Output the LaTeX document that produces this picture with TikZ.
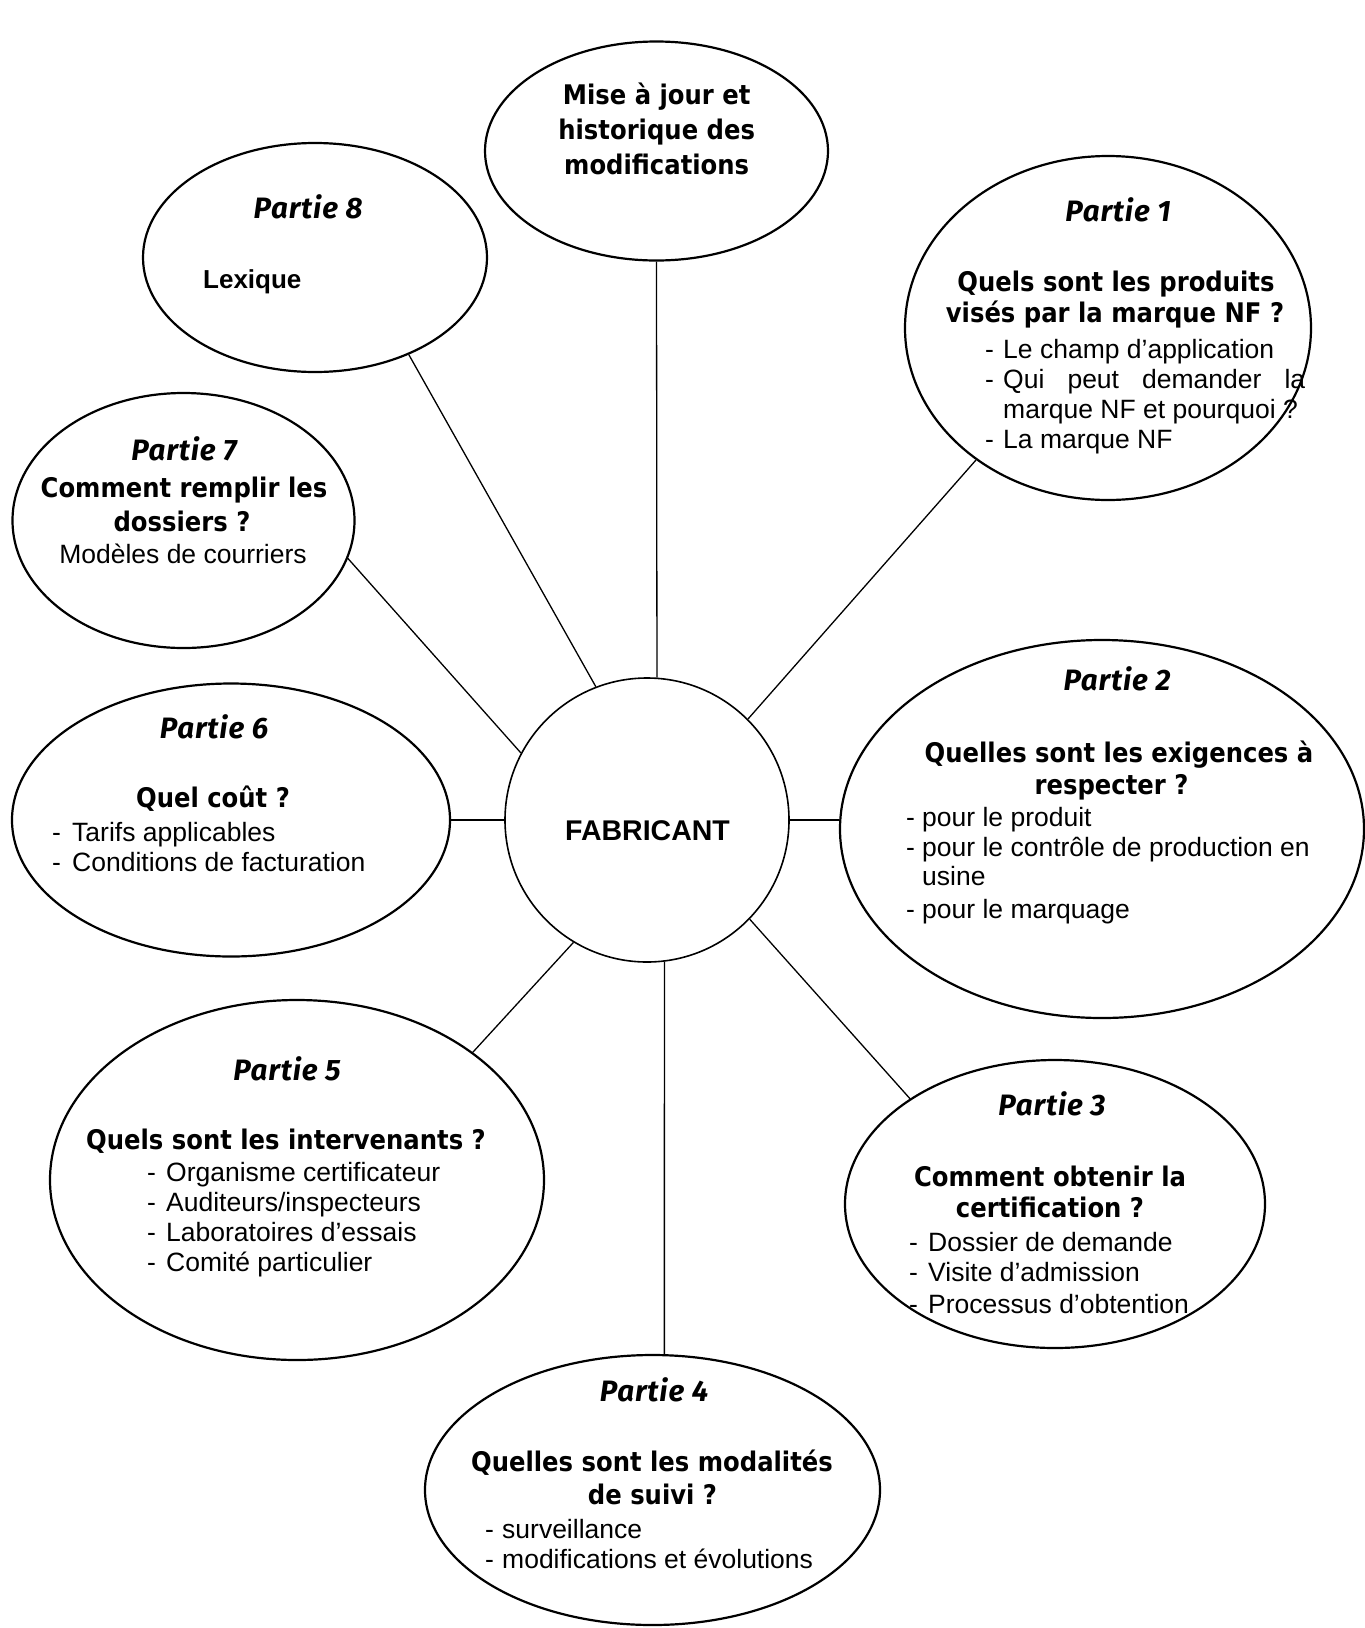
\documentclass[tikz,border=0pt]{standalone}
\usepackage{fontspec}
\setmainfont{Liberation Sans}
\newfontfamily\tfont{DejaVu Sans}[FakeStretch=0.9]
\newfontfamily\pfont{Fira Sans}[LetterSpace=3]
\usetikzlibrary{shapes.geometric}
\begin{document}
\begin{tikzpicture}[x=1pt,y=-1pt,
  bub/.style={ellipse, draw, line width=2.2pt, inner sep=0pt},
  con/.style={line width=1.3pt},
  ptl/.style={font=\pfont\bfseries\itshape\fontsize{29.5}{32}\selectfont, anchor=base, inner sep=0pt},
  ttl/.style={font=\tfont\bfseries\fontsize{27}{31}\selectfont, anchor=base, inner sep=0pt},
  bod/.style={font=\fontsize{26.5}{30}\selectfont, anchor=base west, inner sep=0pt},
  bodc/.style={font=\fontsize{26.5}{30}\selectfont, anchor=base, inner sep=0pt}]
\useasboundingbox[fill=white] (0,0) rectangle (1365,1628);

% bubbles
\node[bub, minimum width=343pt, minimum height=219pt] (T) at (656.5,151) {};
\node[bub, minimum width=344pt, minimum height=229pt] (P8) at (315,257.5) {};
\node[bub, minimum width=406pt, minimum height=344pt] (P1) at (1108,328) {};
\node[bub, minimum width=342pt, minimum height=255pt] (P7) at (183.5,520.5) {};
\node[bub, minimum width=438pt, minimum height=273pt] (P6) at (231,820) {};
\node[circle, draw, line width=1.6pt, minimum size=284pt, inner sep=0pt] (C) at (647,820) {};
\node[bub, minimum width=524pt, minimum height=378pt] (P2) at (1102,829) {};
\node[bub, minimum width=494pt, minimum height=360pt] (P5) at (297,1180) {};
\node[bub, minimum width=420pt, minimum height=288pt] (P3) at (1055,1204) {};
\node[bub, minimum width=455pt, minimum height=270pt] (P4) at (652.5,1490) {};

% connectors
\draw[con] (T.270) -- (C.86);
\draw[con] (P8.314) -- (C.111);
\draw[con] (P1.225) -- (C.45);
\draw[con] (P7.347) -- (C.152);
\draw[con] (P6.east) -- (C.west);
\draw[con] (C.east) -- (C.east -| P2.west);
\draw[con] (P5.36) -- (C.239);
\draw[con] (C.316) -- (P3.144);
\draw[con] (C.277) -- (P4.85);

% centre
\node[font=\bfseries\fontsize{28.5}{32}\selectfont, anchor=base, inner sep=0pt] (fab) at (647.5,840) {FABRICANT};

% top
\node[ttl] (t1) at (656.7,104) {Mise à jour et};
\node[ttl] (t2) at (656.7,139) {historique des};
\node[ttl] (t3) at (656.7,174) {modifications};

% Partie 8
\node[ptl] (p8a) at (308,218) {Partie 8};
\node[bod, font=\bfseries\fontsize{26}{30}\selectfont] (p8b) at (203,288) {Lexique};

% Partie 1
\node[ptl] (p1a) at (1118,221) {Partie 1};
\node[ttl] (p1b) at (1116,291) {Quels sont les produits};
\node[ttl] (p1c) at (1115,322) {visés par la marque NF ?};
\node[bod] (p1d) at (985,358) {\makebox[18pt][l]{-}Le champ d’application};
\node[bod] (p1e) at (985,388) {\makebox[18pt][l]{-}\makebox[302pt][s]{Qui peut demander la}};
\node[bod] (p1f) at (1003,418) {marque NF et pourquoi ?};
\node[bod] (p1g) at (985,448) {\makebox[18pt][l]{-}La marque NF};

% Partie 7
\node[ptl] (p7a) at (184,460) {Partie 7};
\node[ttl] (p7b) at (184,497) {Comment remplir les};
\node[ttl] (p7c) at (182,531) {dossiers ?};
\node[bodc] (p7d) at (183,563) {Modèles de courriers};

% Partie 6
\node[ptl] (p6a) at (214,738) {Partie 6};
\node[ttl] (p6b) at (213,807) {Quel coût ?};
\node[bod] (p6c) at (52,841) {\makebox[20pt][l]{-}Tarifs applicables};
\node[bod] (p6d) at (52,871) {\makebox[20pt][l]{-}Conditions de facturation};

% Partie 2
\node[ptl] (p2a) at (1117,690) {Partie 2};
\node[ttl] (p2b) at (1119,762) {Quelles sont les exigences à};
\node[ttl] (p2c) at (1111.5,794) {respecter ?};
\node[bod] (p2d) at (906,826) {\makebox[16pt][l]{-}pour le produit};
\node[bod] (p2e) at (906,856) {\makebox[16pt][l]{-}pour le contrôle de production en};
\node[bod] (p2f) at (922,885) {usine};
\node[bod] (p2g) at (906,918) {\makebox[16pt][l]{-}pour le marquage};

% Partie 5
\node[ptl] (p5a) at (287,1080) {Partie 5};
\node[ttl] (p5b) at (286,1149) {Quels sont les intervenants ?};
\node[bod] (p5c) at (147,1181) {\makebox[19pt][l]{-}Organisme certificateur};
\node[bod] (p5d) at (147,1211) {\makebox[19pt][l]{-}Auditeurs/inspecteurs};
\node[bod] (p5e) at (147,1241) {\makebox[19pt][l]{-}Laboratoires d’essais};
\node[bod] (p5f) at (147,1271) {\makebox[19pt][l]{-}Comité particulier};

% Partie 3
\node[ptl] (p3a) at (1052,1115) {Partie 3};
\node[ttl] (p3b) at (1050,1186) {Comment obtenir la};
\node[ttl] (p3c) at (1050,1217) {certification ?};
\node[bod] (p3d) at (909,1251) {\makebox[19pt][l]{-}Dossier de demande};
\node[bod] (p3e) at (909,1281) {\makebox[19pt][l]{-}Visite d’admission};
\node[bod] (p3f) at (909,1313) {\makebox[19pt][l]{-}Processus d’obtention};

% Partie 4
\node[ptl] (p4a) at (654,1401) {Partie 4};
\node[ttl] (p4b) at (652,1471) {Quelles sont les modalités};
\node[ttl] (p4c) at (652.5,1504) {de suivi ?};
\node[bod] (p4d) at (485,1538) {\makebox[17pt][l]{-}surveillance};
\node[bod] (p4e) at (485,1568) {\makebox[17pt][l]{-}modifications et évolutions};
\end{tikzpicture}
\end{document}
